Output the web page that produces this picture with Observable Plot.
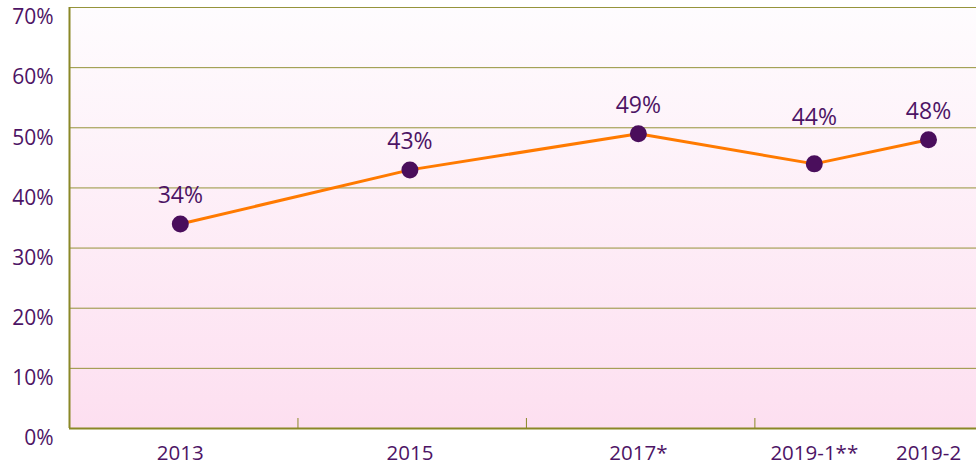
<!DOCTYPE html>
<html>
<head>
<meta charset="utf-8">
<script src="https://cdn.jsdelivr.net/npm/d3@7"></script>
<script src="https://cdn.jsdelivr.net/npm/@observablehq/plot@0.6"></script>
<style>
  html, body { margin: 0; padding: 0; background: #ffffff; }
  #chart svg { display: block; }
</style>
</head>
<body>
<div id="chart"></div>
<script>
// Data
const categories = ["2013", "2015", "2017*", "2019-1**", "2019-2"];
const slots = [-0.015, 0.99, 1.99, 2.76, 3.26]; // position of each survey along the x axis
const values = [34, 43, 49, 44, 48];            // percent
const labelLift = [0, 0, 0, 1, 0];              // 1 = label raised higher
const groupBreaks = [0.5, 1.5, 2.5];
const yTicks = [0, 10, 20, 30, 40, 50, 60, 70];

const data = categories.map((c, i) => ({cat: c, x: slots[i], v: values[i], lift: labelLift[i]}));

const purple = "#4d1465";
const dotColor = "#4a0e5c";
const olive = "#8a8826";
const font = "'Open Sans', sans-serif";

const gradient = () => {
  const defs = d3.create("svg:defs");
  const g = defs.append("linearGradient").attr("id", "bg").attr("x1", 0).attr("y1", 0).attr("x2", 0).attr("y2", 1);
  g.append("stop").attr("offset", "0%").attr("stop-color", "#fefcfe");
  g.append("stop").attr("offset", "100%").attr("stop-color", "#fddff0");
  return defs.node();
};

const chart = Plot.plot({
  width: 976,
  height: 473,
  marginLeft: 69,
  marginRight: 0,
  marginTop: 7,
  marginBottom: 45,
  style: {fontFamily: font, background: "transparent"},
  x: {type: "linear", domain: [-0.5, 3.47]},
  y: {domain: [0, 70]},
  marks: [
    gradient,
    Plot.frame({fill: "url(#bg)", stroke: null}),
    Plot.gridY(yTicks, {stroke: olive, strokeOpacity: 0.9, strokeWidth: 1}),
    Plot.ruleX([-0.5], {stroke: olive, strokeWidth: 2}),
    Plot.ruleY([0], {stroke: olive, strokeWidth: 2}),
    Plot.axisY(yTicks, {
      tickSize: 0, tickPadding: 16, dy: 10,
      tickFormat: d => d + "%",
      fontSize: 21, fill: purple, label: null
    }),
    Plot.axisX(groupBreaks, {tickSize: -10, stroke: olive, tickFormat: () => "", label: null}),
    Plot.text(data, {
      x: "x", text: "cat", frameAnchor: "bottom", dy: 31,
      fontSize: 20.5, fill: purple
    }),
    Plot.line(data, {x: "x", y: "v", stroke: "#ff7a00", strokeWidth: 3}),
    Plot.dot(data, {x: "x", y: "v", r: 8.5, fill: dotColor, stroke: null}),
    Plot.text(data.filter(d => !d.lift), {x: "x", y: "v", text: d => d.v + "%", dy: -28, fontSize: 23, fill: purple}),
    Plot.text(data.filter(d => d.lift), {x: "x", y: "v", text: d => d.v + "%", dy: -46, fontSize: 23, fill: purple})
  ]
});

document.getElementById("chart").appendChild(chart);
</script>
</body>
</html>
